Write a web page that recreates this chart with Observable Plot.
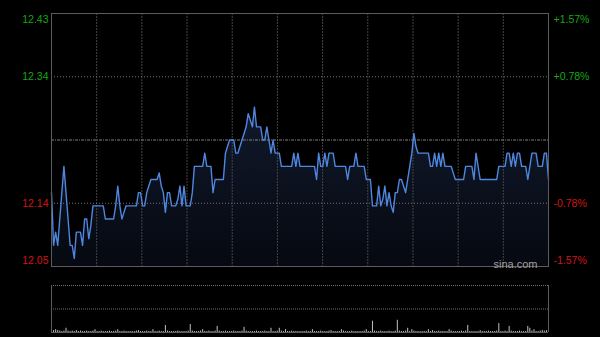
<!DOCTYPE html>
<html>
<head>
<meta charset="utf-8">
<script src="https://cdn.jsdelivr.net/npm/d3@7"></script>
<script src="https://cdn.jsdelivr.net/npm/@observablehq/plot@0.6"></script>
<style>
  html, body { margin: 0; padding: 0; background: #000; }
  #wrap { position: relative; width: 600px; height: 337px; background: #000; overflow: hidden; }
  #price, #volume { position: absolute; left: 0; }
  #price { top: 0; }
  #volume { top: 270px; }
  svg { display: block; }
</style>
</head>
<body>
<div id="wrap"><div id="price"></div><div id="volume"></div></div>
<script>
// ---- data ----
const prevClose = 12.24;
const rangePct = 0.0157;
const leftLabels = ["12.43", "12.34", "12.14", "12.05"];
const rightLabels = ["+1.57%", "+0.78%", "-0.78%", "-1.57%"];
const watermark = "sina.com";

// price per minute (0 = 9:30 ... 240 = 15:00)
const prices = [
  12.16,12.08,12.10,12.08,12.12,12.16,12.20,12.16,12.12,12.08,
  12.08,12.06,12.10,12.10,12.10,12.08,12.12,12.12,12.09,12.11,
  12.14,12.14,12.14,12.14,12.14,12.14,12.12,12.12,12.12,12.12,
  12.12,12.14,12.17,12.14,12.12,12.13,12.14,12.14,12.14,12.14,
  12.14,12.14,12.16,12.16,12.14,12.14,12.16,12.17,12.18,12.18,
  12.18,12.18,12.19,12.17,12.16,12.13,12.16,12.16,12.14,12.14,
  12.14,12.15,12.17,12.14,12.17,12.14,12.14,12.14,12.16,12.20,
  12.20,12.20,12.20,12.20,12.22,12.20,12.20,12.20,12.16,12.18,
  12.18,12.18,12.18,12.18,12.22,12.23,12.24,12.24,12.24,12.22,
  12.22,12.23,12.24,12.25,12.26,12.28,12.27,12.26,12.29,12.26,
  12.26,12.26,12.24,12.24,12.26,12.24,12.22,12.24,12.22,12.22,
  12.22,12.20,12.20,12.20,12.20,12.20,12.20,12.22,12.20,12.22,
  12.20,12.20,12.20,12.20,12.20,12.20,12.20,12.20,12.18,12.22,
  12.20,12.20,12.22,12.20,12.22,12.22,12.22,12.20,12.20,12.20,
  12.20,12.20,12.20,12.18,12.20,12.20,12.20,12.22,12.20,12.20,
  12.20,12.20,12.18,12.18,12.18,12.14,12.14,12.14,12.17,12.14,
  12.15,12.17,12.14,12.16,12.14,12.13,12.16,12.16,12.18,12.18,
  12.17,12.16,12.18,12.20,12.22,12.25,12.23,12.22,12.22,12.22,
  12.22,12.22,12.22,12.20,12.20,12.22,12.20,12.22,12.20,12.22,
  12.20,12.20,12.20,12.20,12.19,12.18,12.18,12.18,12.18,12.18,
  12.20,12.20,12.20,12.20,12.18,12.22,12.20,12.18,12.18,12.18,
  12.18,12.18,12.18,12.18,12.18,12.18,12.20,12.20,12.20,12.20,
  12.22,12.22,12.20,12.22,12.20,12.22,12.22,12.20,12.20,12.20,
  12.18,12.20,12.22,12.22,12.22,12.20,12.20,12.20,12.22,12.22,
  12.18
];

// volume per minute (hundreds of lots)
const volumes = [
  3,4,6,4,3,2,3,9,3,2,
  3,2,4,2,3,2,2,3,2,2,
  3,6,2,2,3,2,2,2,3,2,
  2,3,6,2,2,3,2,2,2,2,
  2,3,4,2,2,2,3,2,2,6,
  2,2,3,2,2,15,3,2,2,2,
  2,3,2,2,2,2,3,17,3,2,
  2,2,3,6,2,2,3,2,2,3,
  13,3,2,2,3,2,2,2,3,2,
  2,2,3,11,3,2,2,2,2,3,
  2,2,2,3,2,2,9,2,2,3,
  9,3,2,6,2,2,3,2,2,2,
  2,2,2,3,2,2,6,2,2,2,
  3,2,2,2,3,4,2,2,2,2,
  6,3,2,2,2,3,2,2,2,2,
  2,3,6,2,2,24,3,2,2,3,
  2,2,2,3,2,2,3,26,3,2,
  2,3,9,2,6,3,2,2,2,2,
  2,2,6,2,4,2,2,3,2,2,
  2,2,6,3,2,2,2,2,3,2,
  3,15,2,2,2,2,2,4,2,2,
  2,3,2,2,2,3,19,2,2,3,
  2,13,3,2,2,2,3,2,2,2,
  13,9,3,6,2,2,3,4,3,4,
  3
];

// ---- derived ----
const yMax = prevClose * (1 + rangePct);
const yMin = prevClose * (1 - rangePct);
const q = (yMax - yMin) / 4;
const series = prices.map((p, t) => ({t, p}));
const volSeries = volumes.map((v, t) => ({t, v}));
const nMin = prices.length - 1;
const vGrid = d3.range(1, 11).map(i => i * nMin / 11);
const labelPos = [yMax, yMax - q, yMin + q, yMin];
const labelRows = leftLabels.map((l, i) => ({y: labelPos[i], left: l, right: rightLabels[i], up: i < 2}));
const green = "#14a814", red = "#d21414";
const font = {fontSize: 10.5, fontFamily: "'Liberation Sans', Arial, sans-serif"};

const defsMark = () => {
  const defs = d3.create("svg:defs");
  const g = defs.append("linearGradient").attr("id", "priceFill")
    .attr("x1", 0).attr("y1", 0).attr("x2", 0).attr("y2", 1);
  g.append("stop").attr("offset", "0%").attr("stop-color", "#1c2b4a").attr("stop-opacity", 0.6);
  g.append("stop").attr("offset", "100%").attr("stop-color", "#0c1222").attr("stop-opacity", 0.5);
  return defs.node();
};

function labelMarks(rows, dy) {
  return [
    Plot.text(rows, {y: "y", text: "left", frameAnchor: "left", textAnchor: "end", dx: -3, dy,
      fill: d => d.up ? green : red, ...font}),
    Plot.text(rows, {y: "y", text: "right", frameAnchor: "right", textAnchor: "start", dx: 5, dy,
      fill: d => d.up ? green : red, ...font})
  ];
}

const priceChart = Plot.plot({
  width: 600, height: 270,
  marginLeft: 51, marginRight: 52, marginTop: 13, marginBottom: 4,
  style: {background: "transparent", overflow: "visible"},
  x: {domain: [0, nMin], axis: null},
  y: {domain: [yMin, yMax], axis: null},
  marks: [
    defsMark,
    Plot.areaY(series, {x: "t", y1: yMin, y2: "p", fill: "url(#priceFill)"}),
    Plot.ruleX(vGrid, {stroke: "#444", strokeDasharray: "2,1"}),
    Plot.ruleY([yMax - q, yMin + q], {stroke: "#707070", strokeDasharray: "1,2"}),
    Plot.ruleY([prevClose], {stroke: "#808080", strokeDasharray: "3,1,1,1"}),
    Plot.line(series, {x: "t", y: "p", stroke: "#4f86de", strokeWidth: 1.4}),
    Plot.frame({stroke: "#5c5c5c"}),
    ...labelMarks(labelRows.filter((d, i) => i === 0), 6),
    ...labelMarks(labelRows.filter((d, i) => i === 1 || i === 2), 0),
    ...labelMarks(labelRows.filter((d, i) => i === 3), -6),
    Plot.text([watermark], {text: d => d, frameAnchor: "bottom-right", textAnchor: "end", lineAnchor: "bottom",
      dx: -11, dy: 1, fill: "#a0a0a0", fontSize: 11, fontFamily: "'Liberation Sans', Arial, sans-serif"})
  ]
});
document.getElementById("price").appendChild(priceChart);

const volChart = Plot.plot({
  width: 600, height: 67,
  marginLeft: 51, marginRight: 52, marginTop: 15, marginBottom: 5,
  style: {background: "transparent", overflow: "visible"},
  x: {domain: [0, nMin], axis: null},
  y: {domain: [0, 100], axis: null},
  marks: [
    Plot.ruleY([100, 50], {stroke: "#707070", strokeDasharray: "1,1"}),
    Plot.ruleX(volSeries, {x: "t", y1: 0, y2: "v", stroke: "#c0c0c0", strokeWidth: 1}),
    Plot.ruleY([0], {stroke: "#5c5c5c"}),
    Plot.ruleX([0, nMin], {stroke: "#5c5c5c"})
  ]
});
document.getElementById("volume").appendChild(volChart);
</script>
</body>
</html>
